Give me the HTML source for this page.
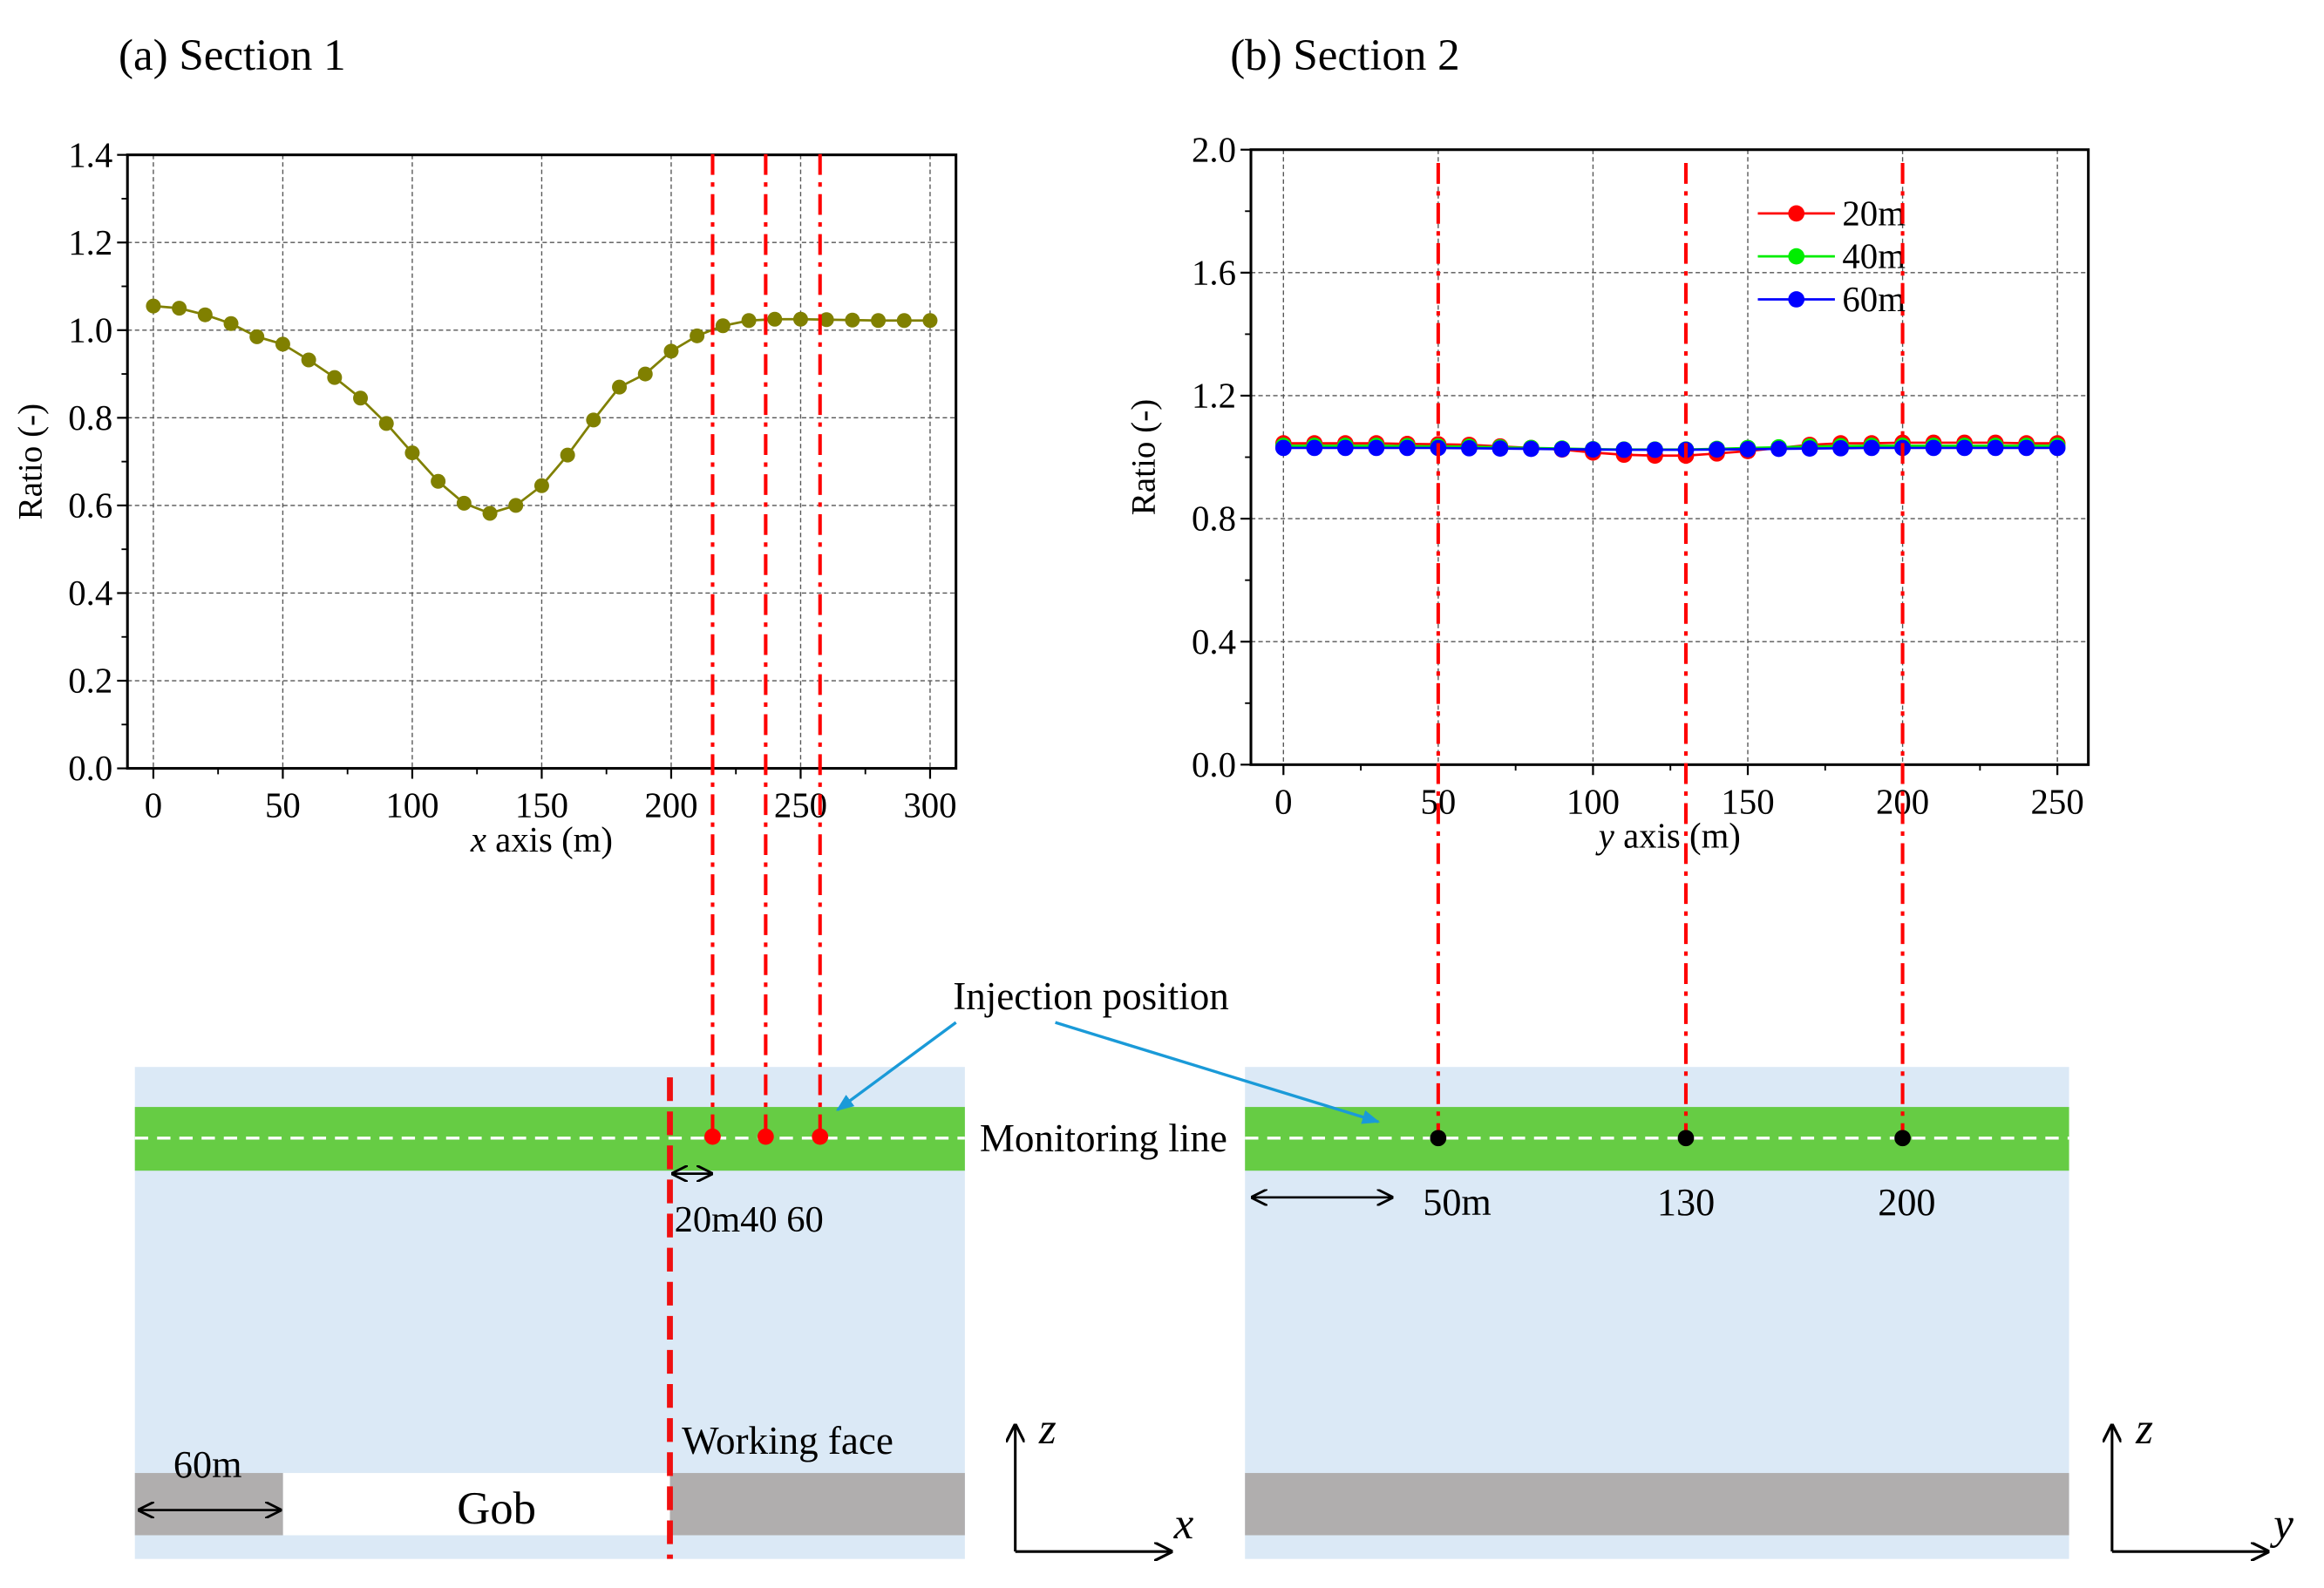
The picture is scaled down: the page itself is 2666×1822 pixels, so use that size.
<!DOCTYPE html>
<html><head><meta charset="utf-8"><style>
html,body{margin:0;padding:0;background:#fff}
svg{display:block;font-family:"Liberation Serif",serif}
</style></head><body>
<svg id="fig" width="2666" height="1822" viewBox="0 0 1568 1071.6" xmlns="http://www.w3.org/2000/svg">
<defs>
<marker id="ah" viewBox="0 0 10 10" refX="9" refY="5" markerWidth="7" markerHeight="7" orient="auto-start-reverse"><path d="M0,0 L10,5 L0,10" fill="none" stroke="#000" stroke-width="1.5"/></marker>
<marker id="bh" viewBox="0 0 10 10" refX="9" refY="5" markerWidth="6" markerHeight="6" orient="auto"><path d="M0,1 L10,5 L0,9 Z" fill="#1a9ad8"/></marker>
</defs>
<text x="80" y="47" font-size="30">(a) Section 1</text>
<text x="830" y="47" font-size="30">(b) Section 2</text>
<g id="chartA"></g>
<g id="chartB"></g>

<g>
<rect x="91" y="720" width="560" height="332" fill="#dbe9f6"/>
<rect x="91" y="747" width="560" height="43" fill="#66cc44"/>
<line x1="91" y1="768" x2="651" y2="768" stroke="#fff" stroke-width="2" stroke-dasharray="9,6"/>
<rect x="91" y="994" width="100" height="42" fill="#b0aeae"/>
<rect x="191" y="994" width="261" height="42" fill="#fff"/>
<rect x="452" y="994" width="199" height="42" fill="#b0aeae"/>
<line x1="452" y1="727" x2="452" y2="1052" stroke="#f01010" stroke-width="4" stroke-dasharray="16,7"/>
<line x1="454" y1="792" x2="480" y2="792" stroke="#000" stroke-width="1.6" marker-start="url(#ah)" marker-end="url(#ah)"/>
<text x="455" y="831" font-size="25">20m40 60</text>
<line x1="94" y1="1019" x2="189" y2="1019" stroke="#000" stroke-width="1.6" marker-start="url(#ah)" marker-end="url(#ah)"/>
<text x="117" y="997" font-size="26">60m</text>
<text x="335" y="1028" font-size="31" text-anchor="middle">Gob</text>
<text x="460" y="981" font-size="26.5">Working face</text>
<line x1="685" y1="1047" x2="685" y2="962" stroke="#000" stroke-width="1.8" marker-end="url(#ah)"/>
<line x1="685" y1="1047" x2="790" y2="1047" stroke="#000" stroke-width="1.8" marker-end="url(#ah)"/>
<text x="701" y="974" font-size="30" font-style="italic">z</text>
<text x="792" y="1038" font-size="30" font-style="italic">x</text>
</g>
<g>
<rect x="840" y="720" width="556" height="332" fill="#dbe9f6"/>
<rect x="840" y="747" width="556" height="43" fill="#66cc44"/>
<line x1="840" y1="768" x2="1396" y2="768" stroke="#fff" stroke-width="2" stroke-dasharray="9,6"/>
<rect x="840" y="994" width="556" height="42" fill="#b0aeae"/>
<line x1="845" y1="808" x2="939" y2="808" stroke="#000" stroke-width="1.6" marker-start="url(#ah)" marker-end="url(#ah)"/>
<text x="960" y="820" font-size="26">50m</text>
<text x="1118" y="820" font-size="26">130</text>
<text x="1267" y="820" font-size="26">200</text>
<line x1="1425" y1="1047" x2="1425" y2="962" stroke="#000" stroke-width="1.8" marker-end="url(#ah)"/>
<line x1="1425" y1="1047" x2="1530" y2="1047" stroke="#000" stroke-width="1.8" marker-end="url(#ah)"/>
<text x="1441" y="974" font-size="30" font-style="italic">z</text>
<text x="1534" y="1038" font-size="30" font-style="italic">y</text>
</g>
<text x="643" y="681" font-size="26.5">Injection position</text>
<line x1="645" y1="690" x2="565" y2="749" stroke="#1a9ad8" stroke-width="2" marker-end="url(#bh)"/>
<line x1="712" y1="690" x2="930" y2="757" stroke="#1a9ad8" stroke-width="2" marker-end="url(#bh)"/>
<text x="661" y="777" font-size="26.5">Monitoring line</text>
<g id="over"></g>
</svg>
<script>
const xA = [0,10,20,30,40,50,60,70,80,90,100,110,120,130,140,150,160,170,180,190,200,210,220,230,240,250,260,270,280,290,300];
const ratioA = [1.055,1.05,1.035,1.015,0.985,0.968,0.932,0.892,0.845,0.787,0.72,0.655,0.605,0.582,0.6,0.645,0.715,0.795,0.87,0.9,0.952,0.987,1.01,1.022,1.025,1.025,1.024,1.023,1.022,1.022,1.022];
const xTicksA = [0,50,100,150,200,250,300];
const yTicksA = [0,0.2,0.4,0.6,0.8,1.0,1.2,1.4];
const yB = [0,10,20,30,40,50,60,70,80,90,100,110,120,130,140,150,160,170,180,190,200,210,220,230,240,250];
const r20 = [1.045,1.045,1.045,1.045,1.043,1.042,1.04,1.035,1.03,1.025,1.015,1.008,1.005,1.005,1.012,1.02,1.03,1.04,1.045,1.045,1.047,1.047,1.047,1.047,1.045,1.045];
const r40 = [1.037,1.037,1.037,1.037,1.036,1.035,1.034,1.032,1.03,1.028,1.026,1.025,1.025,1.025,1.027,1.03,1.032,1.035,1.036,1.037,1.037,1.037,1.037,1.037,1.037,1.037];
const r60 = [1.03,1.03,1.03,1.03,1.03,1.03,1.029,1.028,1.027,1.026,1.025,1.024,1.024,1.024,1.025,1.026,1.027,1.028,1.029,1.03,1.03,1.03,1.03,1.03,1.03,1.03];
const xTicksB = [0,50,100,150,200,250];
const yTicksB = [0,0.4,0.8,1.2,1.6,2.0];
const seriesNames = ["20m","40m","60m"];
const seriesColors = ["#ff0000","#00ee00","#0000ff"];
const injA = [216,236.5,257.5];
const injB = [50,130,200];

const NS="http://www.w3.org/2000/svg";
function mk(p,tag,at){const e=document.createElementNS(NS,tag);for(const k in at)e.setAttribute(k,at[k]);p.appendChild(e);return e;}

function axes(g,o){
  const sx=v=>o.x0+(v-o.xmin)/(o.xmax-o.xmin)*(o.x1-o.x0);
  const sy=v=>o.y0-(v-o.ymin)/(o.ymax-o.ymin)*(o.y0-o.y1);
  o.xt.forEach(v=>{const l=mk(g,'line',{x1:sx(v),x2:sx(v),y1:o.y1,y2:o.y0,stroke:'#555','stroke-width':0.8,'stroke-dasharray':'3,2'});
    });
  o.yt.forEach(v=>{if(v===o.ymin||v===o.ymax)return;const l=mk(g,'line',{x1:o.x0,x2:o.x1,y1:sy(v),y2:sy(v),stroke:'#555','stroke-width':0.8,'stroke-dasharray':'3,2'});
    });
  const fr=mk(g,'rect',{x:o.x0,y:o.y1,width:o.x1-o.x0,height:o.y0-o.y1,fill:'none',stroke:'#000','stroke-width':1.8});
  
  for(let i=0;i<o.xt.length;i++){const v=o.xt[i];
    mk(g,'line',{x1:sx(v),x2:sx(v),y1:o.y0,y2:o.y0+7,stroke:'#000','stroke-width':1.3});
    if(i<o.xt.length-1){const m=(v+o.xt[i+1])/2;mk(g,'line',{x1:sx(m),x2:sx(m),y1:o.y0,y2:o.y0+4,stroke:'#000','stroke-width':1.1});}
    const t=mk(g,'text',{x:sx(v),y:o.y0+33,'font-size':24,'text-anchor':'middle'});t.textContent=v;
    }
  for(let i=0;i<o.yt.length;i++){const v=o.yt[i];
    mk(g,'line',{x1:o.x0-7,x2:o.x0,y1:sy(v),y2:sy(v),stroke:'#000','stroke-width':1.3});
    if(i<o.yt.length-1){const m=(v+o.yt[i+1])/2;mk(g,'line',{x1:o.x0-4,x2:o.x0,y1:sy(m),y2:sy(m),stroke:'#000','stroke-width':1.1});}
    const t=mk(g,'text',{x:o.x0-10,y:sy(v)+8,'font-size':24,'text-anchor':'end'});t.textContent=v.toFixed(1);
    }
  const xt=mk(g,'text',{x:(o.x0+o.x1)/2,y:o.y0+56,'font-size':24,'text-anchor':'middle'});
  xt.innerHTML='<tspan font-style="italic">'+o.xl+'</tspan> axis (m)';
  
  const yt=mk(g,'text',{x:0,y:0,'font-size':23,'text-anchor':'middle',transform:`translate(${o.yx},${(o.y0+o.y1)/2}) rotate(-90)`});
  yt.textContent='Ratio (-)';
  
  return {sx,sy};
}
function series(g,xs,ys,sx,sy,col,r,name){
  const pl=mk(g,'polyline',{points:xs.map((x,i)=>sx(x)+','+sy(ys[i])).join(' '),fill:'none',stroke:col,'stroke-width':1.6});
  
  xs.forEach((x,i)=>{const c=mk(g,'circle',{cx:sx(x),cy:sy(ys[i]),r:r,fill:col});
    });
}
const gA=document.getElementById('chartA');
const A=axes(gA,{x0:86,x1:645,y0:518.5,y1:104.5,xmin:-10,xmax:310,ymin:0,ymax:1.4,xt:xTicksA,yt:yTicksA,xl:'x',yx:28});
series(gA,xA,ratioA,A.sx,A.sy,'#808000',5,'section1');
const gB=document.getElementById('chartB');
const B=axes(gB,{x0:844,x1:1409,y0:516,y1:101,xmin:-10.5,xmax:260,ymin:0,ymax:2.0,xt:xTicksB,yt:yTicksB,xl:'y',yx:779});
[r20,r40,r60].forEach((d,i)=>series(gB,yB,d,B.sx,B.sy,seriesColors[i],5.5,'series-'+seriesNames[i]));
seriesNames.forEach((n,i)=>{const y=144+i*29;
  const l=mk(gB,'line',{x1:1186,x2:1238,y1:y,y2:y,stroke:seriesColors[i],'stroke-width':1.6});
  
  mk(gB,'circle',{cx:1212,cy:y,r:5.5,fill:seriesColors[i]});
  const t=mk(gB,'text',{x:1243,y:y+8,'font-size':24});t.textContent=n;
  });
const ov=document.getElementById('over');
injA.forEach(v=>{const x=A.sx(v);
  const l=mk(ov,'line',{x1:x,x2:x,y1:104,y2:767,stroke:'#ff0000','stroke-width':2.4,'stroke-dasharray':'14,5,3,5'});
  
  const c=mk(ov,'circle',{cx:x,cy:767,r:5.5,fill:'#ff0000'});
  });
injB.forEach(v=>{const x=B.sx(v);
  const l=mk(ov,'line',{x1:x,x2:x,y1:110,y2:768,stroke:'#ff0000','stroke-width':2.4,'stroke-dasharray':'14,5,3,5'});
  
  const c=mk(ov,'circle',{cx:x,cy:768,r:5.5,fill:'#000'});
  });
</script>
</body></html>
